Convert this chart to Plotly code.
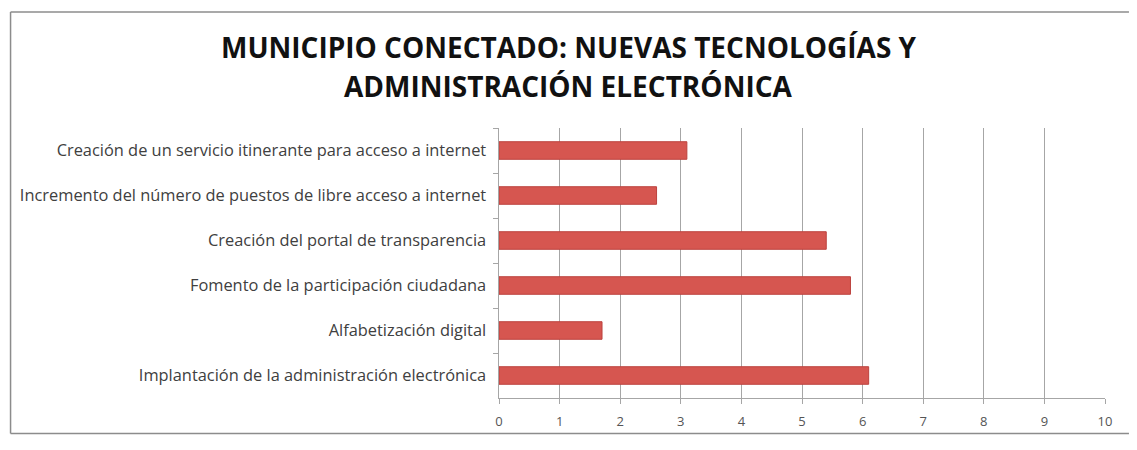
import plotly.graph_objects as go

# ---- Data (top to bottom as shown) ----
categories = [
    "Creación de un servicio itinerante para acceso a internet",
    "Incremento del número de puestos de libre acceso a internet",
    "Creación del portal de transparencia",
    "Fomento de la participación ciudadana",
    "Alfabetización digital",
    "Implantación de la administración electrónica",
]
values = [3.1, 2.6, 5.4, 5.8, 1.7, 6.1]
x_ticks = list(range(0, 11))

# page body adds 8px around the figure, keep it inside the window (no scrollbars)
W, H = 1121, 434
L, R, T, B = 490, 24, 120, 37
pw, ph = W - L - R, H - T - B


def px_x(v):
    return (v - L) / pw


def px_y(v):
    return (H - B - v) / ph


fig = go.Figure()
fig.add_trace(go.Bar(
    x=values, y=categories, orientation="h", width=0.39,
    marker=dict(color="#D65650", line=dict(color="#BC423E", width=1)),
))

fig.update_layout(
    width=W, height=H,
    margin=dict(l=L, r=R, t=T, b=B),
    paper_bgcolor="white", plot_bgcolor="white",
    showlegend=False,
    font=dict(family="Open Sans", color="#404040"),
)

# two-line title as annotations for exact spacing
title_lines = ["MUNICIPIO CONECTADO: NUEVAS TECNOLOGÍAS Y", "ADMINISTRACIÓN ELECTRÓNICA"]
for i, line in enumerate(title_lines):
    fig.add_annotation(
        text="<b>" + line + "</b>", xref="paper", yref="paper",
        x=px_x(560), y=px_y(37 + 40 * i),
        xanchor="center", yanchor="middle", showarrow=False,
        font=dict(family="Open Sans", size=28, color="#111111"),
    )

fig.update_xaxes(
    range=[0, 10], tickvals=x_ticks, showgrid=True, gridcolor="#A6A6A6", gridwidth=1,
    showline=True, linecolor="#A6A6A6", ticks="outside", ticklen=5, tickcolor="#A6A6A6",
    tickfont=dict(size=13, color="#555555"), zeroline=False, ticklabelstandoff=6,
)
fig.update_yaxes(
    autorange="reversed", showline=True, linecolor="#A6A6A6",
    ticks="outside", tickson="boundaries", ticklen=5, tickcolor="#A6A6A6",
    tickfont=dict(size=16.4, color="#404040"), showgrid=False, ticksuffix="  ",
)

# outer frame of the chart: left, top and bottom edges (right edge is off the picture)
frame = dict(color="#8C8C8C", width=1.5)
for x0, y0, x1, y1 in [(0.75, 1, 0.75, 433.5), (0.75, 1, W, 1), (0.75, 433.5, W, 433.5)]:
    fig.add_shape(type="line", xref="paper", yref="paper",
                  x0=px_x(x0), y0=px_y(y0), x1=px_x(x1), y1=px_y(y1),
                  line=frame, layer="below")

fig.write_html("out.html")
